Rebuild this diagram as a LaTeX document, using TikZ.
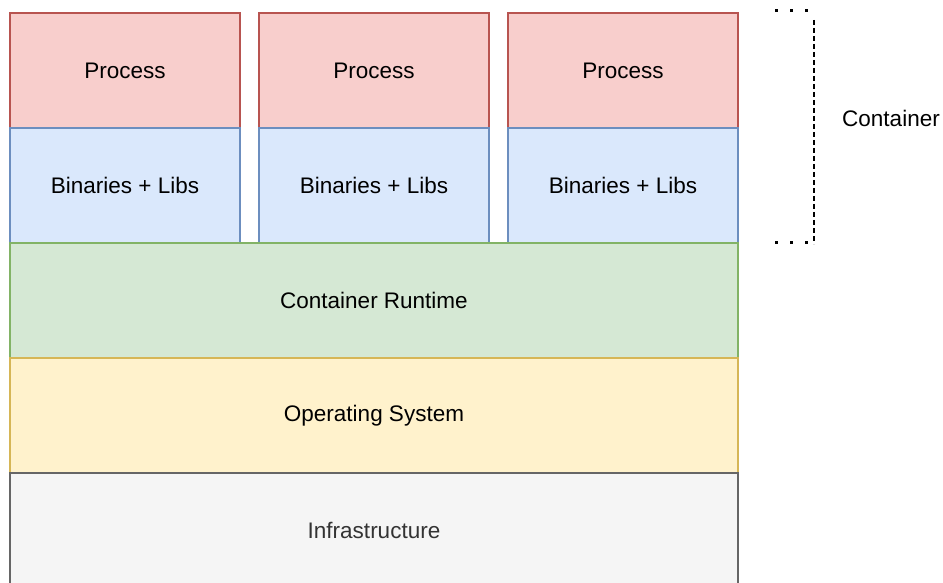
\documentclass[tikz,border=0pt]{standalone}
\usepackage{fontspec}
\setmainfont{Liberation Sans}
\definecolor{procfill}{HTML}{F8CECC}
\definecolor{procline}{HTML}{B85450}
\definecolor{binfill}{HTML}{DAE8FC}
\definecolor{binline}{HTML}{6C8EBF}
\definecolor{rtfill}{HTML}{D5E8D4}
\definecolor{rtline}{HTML}{82B366}
\definecolor{osfill}{HTML}{FFF2CC}
\definecolor{osline}{HTML}{D6B656}
\definecolor{infill}{HTML}{F5F5F5}
\definecolor{inline}{HTML}{666666}
\definecolor{intext}{HTML}{333333}
\begin{document}
\begin{tikzpicture}[x=1pt,y=-1pt,
  layer/.style={draw, line width=1.9pt, inner sep=0pt, minimum height=115pt,
    font=\fontsize{22.5}{27}\selectfont, text=black},
  colbox/.style={layer, minimum width=230pt},
  widebox/.style={layer, minimum width=728pt},
  proc/.style={colbox, fill=procfill, draw=procline},
  bins/.style={colbox, fill=binfill, draw=binline},
  runtime/.style={widebox, fill=rtfill, draw=rtline},
  opsys/.style={widebox, fill=osfill, draw=osline},
  infra/.style={widebox, fill=infill, draw=inline, text=intext},
  bracketdots/.style={line width=3pt, dash pattern=on 3pt off 12pt},
  bracketline/.style={line width=2pt, dash pattern=on 5pt off 3pt},
  label/.style={font=\fontsize{22.5}{27}\selectfont}
]
\useasboundingbox (0,0) rectangle (943,583);
\clip (0,0) rectangle (943,583);
\fill[white] (0,0) rectangle (943,583);

% three containers: process on top of binaries
\node[proc] (p1) at (125,70.5) {Process};
\node[proc] (p2) at (374,70.5) {Process};
\node[proc] (p3) at (623,70.5) {Process};
\node[bins] (b1) at (125,185.5) {Binaries + Libs};
\node[bins] (b2) at (374,185.5) {Binaries + Libs};
\node[bins] (b3) at (623,185.5) {Binaries + Libs};

% shared layers
\node[runtime] (rt) at (374,300.5) {Container Runtime};
\node[opsys] (os) at (374,415.5) {Operating System};
\node[infra] (inf) at (374,530.5) {Infrastructure};

% bracket marking the container part
\coordinate (bt1) at (775,11);
\coordinate (bt2) at (812,11);
\coordinate (bv1) at (814,20);
\coordinate (bv2) at (814,244);
\coordinate (bb1) at (775,242);
\coordinate (bb2) at (812,242);
\draw[bracketdots] (bt1) -- (bt2);
\draw[bracketline] (bv1) -- (bv2);
\draw[bracketdots] (bb1) -- (bb2);
\node[label, anchor=center] (ctr) at (891,118) {Container};
\end{tikzpicture}
\end{document}
